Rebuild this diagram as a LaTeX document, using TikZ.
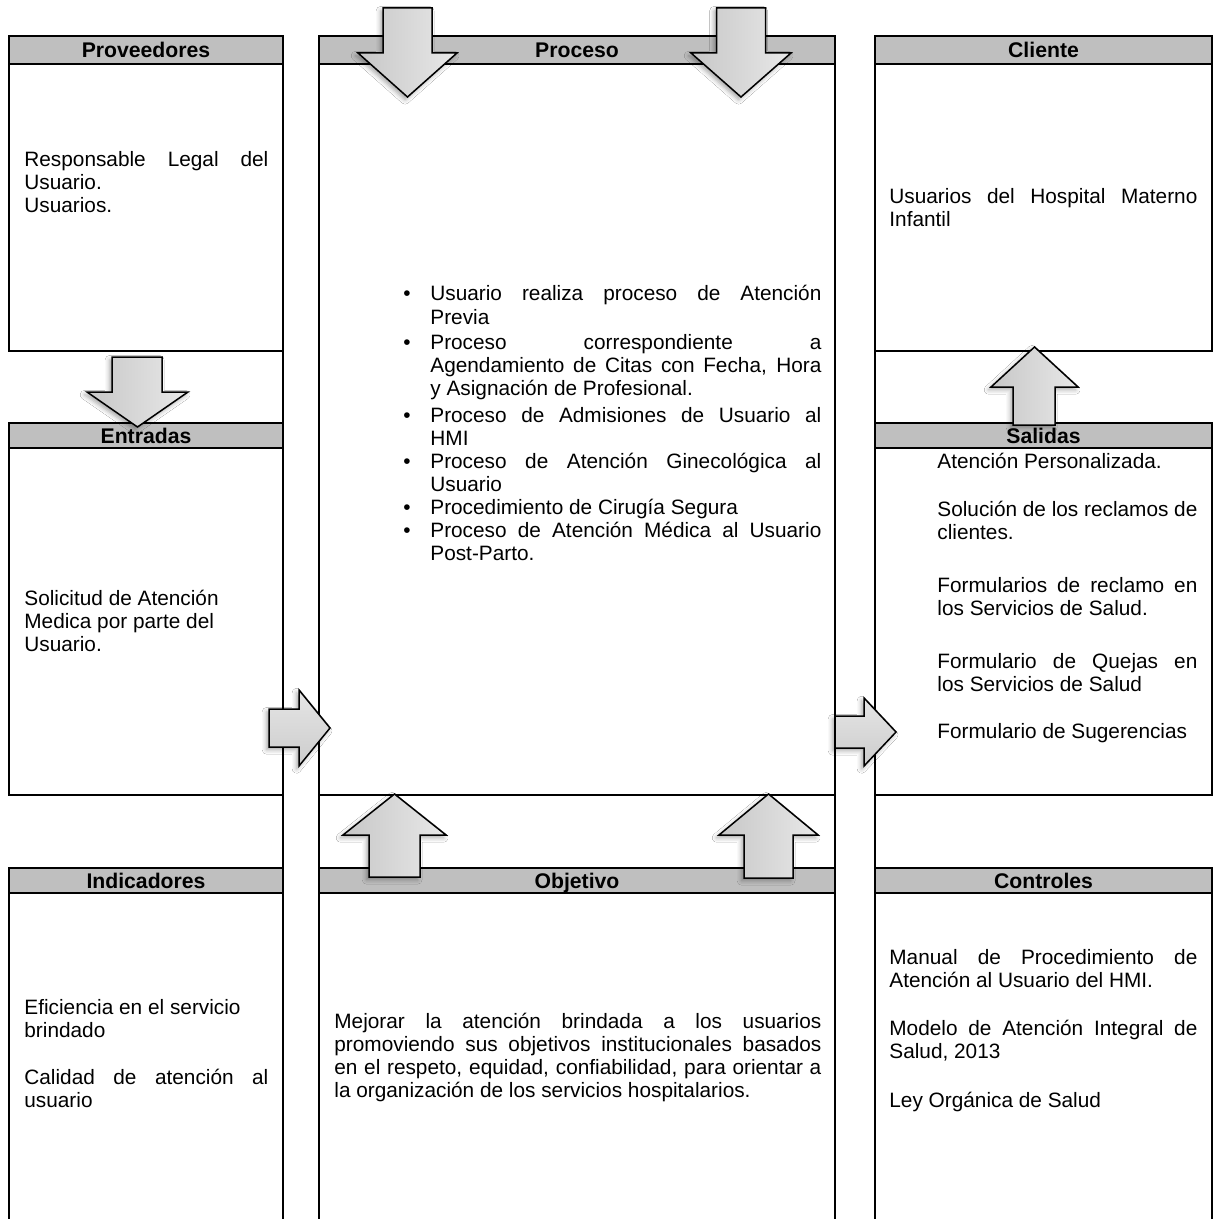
\documentclass[tikz,border=0pt]{standalone}
\usepackage{fontspec}
\setmainfont{Liberation Sans}
\usetikzlibrary{shadows.blur}

% text settings
\newcommand\txtbody{\fontsize{10.4}{11.5}\selectfont\hyphenpenalty=10000\exhyphenpenalty=10000\relax}
\newcommand\txthead{\fontsize{10.6}{12}\selectfont\bfseries}
% bullet with hanging indent for the process list
\newcommand\bul{\hangindent=13.5pt\hangafter=1\makebox[13.5pt][l]{\textbullet}}

\begin{document}
\begin{tikzpicture}[x=0.5pt,y=-0.5pt,
  rule/.style={line width=1.2pt},
  band/.style={fill=black!25},
  headtext/.style={font=\txthead, anchor=base, inner sep=0pt},
  bodytext/.style={font=\txtbody, anchor=base west, inner sep=0pt, align=justify},
  blockarrow/.style={draw=black, line width=0.75pt, line join=miter,
     blur shadow={shadow xshift=-1.2pt, shadow yshift=-1.4pt, shadow blur radius=2.2pt, shadow opacity=35}},
  vshade/.style={left color=black!22, right color=black!9},
  hshade/.style={top color=black!10, bottom color=black!20}
]
\useasboundingbox (0,0) rectangle (1214,1219);
\fill[white] (0,0) rectangle (1214,1219);

% ---------- header bands ----------
\foreach \ya/\yb in {36/64, 423/448, 868/893} {
  \fill[band] (9,\ya) rectangle (283,\yb);
  \fill[band] (875,\ya) rectangle (1212,\yb);
}
\fill[band] (319,36) rectangle (835,64);
\fill[band] (319,868) rectangle (835,893);

% ---------- table rules ----------
% left column
\draw[rule] (9,36) rectangle (283,351);
\draw[rule] (9,64) -- (283,64);
\draw[rule] (9,423) rectangle (283,795);
\draw[rule] (9,448) -- (283,448);
\draw[rule] (9,1230) -- (9,868) -- (283,868) -- (283,1230);
\draw[rule] (9,893) -- (283,893);
% centre column
\draw[rule] (319,36) rectangle (835,795);
\draw[rule] (319,64) -- (835,64);
\draw[rule] (319,1230) -- (319,868) -- (835,868) -- (835,1230);
\draw[rule] (319,893) -- (835,893);
% right column
\draw[rule] (875,36) rectangle (1212,351);
\draw[rule] (875,64) -- (1212,64);
\draw[rule] (875,423) rectangle (1212,795);
\draw[rule] (875,448) -- (1212,448);
\draw[rule] (875,1230) -- (875,868) -- (1212,868) -- (1212,1230);
\draw[rule] (875,893) -- (1212,893);
% inner column borders run the full height
\foreach \xx in {283,319,835,875}
  \draw[rule] (\xx,36) -- (\xx,1230);

% ---------- headers ----------
\node[headtext] (hprov) at (146,58) {Proveedores};
\node[headtext] (hproc) at (577,58) {Proceso};
\node[headtext] (hcli)  at (1043.5,58) {Cliente};
\node[headtext] (hent)  at (146,443.5) {Entradas};
\node[headtext] (hsal)  at (1043.5,443.5) {Salidas};
\node[headtext] (hind)  at (146,888) {Indicadores};
\node[headtext] (hobj)  at (577,888) {Objetivo};
\node[headtext] (hctl)  at (1043.5,888) {Controles};

% ---------- cell contents ----------
\node[bodytext, text width=122pt] (tprov) at (24,167)
  {Responsable Legal del\linebreak Usuario.\par Usuarios.};
\node[bodytext, text width=154pt] (tcli) at (889,204)
  {Usuarios del Hospital Materno\linebreak Infantil};

\node[bodytext, text width=209pt] (p1) at (403,301)
  {\bul Usuario realiza proceso de Atención\linebreak Previa\par};
\node[bodytext, text width=209pt] (p2) at (403,350)
  {\bul Proceso correspondiente a\linebreak Agendamiento de Citas con Fecha, Hora\linebreak y Asignación de Profesional.\par};
\node[bodytext, text width=209pt] (p3) at (403,422)
  {\bul Proceso de Admisiones de Usuario al\linebreak HMI\par};
\node[bodytext, text width=209pt] (p4) at (403,468)
  {\bul Proceso de Atención Ginecológica al\linebreak Usuario\par};
\node[bodytext, text width=209pt] (p5) at (403,514)
  {\bul Procedimiento de Cirugía Segura\par};
\node[bodytext, text width=209pt] (p6) at (403,537)
  {\bul Proceso de Atención Médica al Usuario\linebreak Post-Parto.\par};

\node[bodytext, text width=122pt] (tent) at (24,605)
  {Solicitud de Atención\\ Medica por parte del\\ Usuario.};

\node[bodytext, text width=130pt] (s1) at (937,468) {Atención Personalizada.};
\node[bodytext, text width=130pt] (s2) at (937,516) {Solución de los reclamos de\linebreak clientes.};
\node[bodytext, text width=130pt] (s3) at (937,592) {Formularios de reclamo en\linebreak los Servicios de Salud.};
\node[bodytext, text width=130pt] (s4) at (937,668) {Formulario de Quejas en\linebreak los Servicios de Salud};
\node[bodytext, text width=130pt] (s5) at (937,738) {Formulario de Sugerencias};

\node[bodytext, text width=122pt] (i1) at (24,1014) {Eficiencia en el servicio\\ brindado};
\node[bodytext, text width=122pt] (i2) at (24,1084) {Calidad de atención al\linebreak usuario};

\node[bodytext, text width=243.5pt] (tobj) at (334,1028)
  {Mejorar la atención brindada a los usuarios\linebreak promoviendo sus objetivos institucionales basados\linebreak en el respeto, equidad, confiabilidad, para orientar a\linebreak la organización de los servicios hospitalarios.};

\node[bodytext, text width=154pt] (c1) at (889,964) {Manual de Procedimiento de\linebreak Atención al Usuario del HMI.};
\node[bodytext, text width=154pt] (c2) at (889,1035) {Modelo de Atención Integral de\linebreak Salud, 2013};
\node[bodytext, text width=154pt] (c3) at (889,1107) {Ley Orgánica de Salud};

% ---------- block arrows ----------
% into the process from above
\draw[blockarrow, vshade] (383,8) -- (432,8) -- (432,53) -- (457,53) -- (407.5,97) -- (358,53) -- (383,53) -- cycle;
\draw[blockarrow, vshade] (716.5,8) -- (765.5,8) -- (765.5,53) -- (791,53) -- (741,97) -- (691,53) -- (716.5,53) -- cycle;
% suppliers to inputs
\draw[blockarrow, vshade] (112,357) -- (162,357) -- (162,392) -- (188,392) -- (137.5,427) -- (87,392) -- (112,392) -- cycle;
% outputs to client
\draw[blockarrow, vshade] (1013,425) -- (1055,425) -- (1055,387) -- (1078,387) -- (1034.5,347) -- (991,387) -- (1013,387) -- cycle;
% objective up into the process
\draw[blockarrow, vshade] (369,877) -- (420,877) -- (420,835) -- (446,835) -- (394.5,794) -- (343,835) -- (369,835) -- cycle;
\draw[blockarrow, vshade] (744,878) -- (793,878) -- (793,835) -- (818,835) -- (768.5,794) -- (719,835) -- (744,835) -- cycle;
% inputs to process, process to outputs
\draw[blockarrow, hshade] (269,709) -- (299,709) -- (299,690) -- (330,728) -- (299,766) -- (299,747) -- (269,747) -- cycle;
\draw[blockarrow, hshade] (835,716) -- (864,716) -- (864,698) -- (896,732) -- (864,766) -- (864,748) -- (835,748) -- cycle;
\end{tikzpicture}
\end{document}
